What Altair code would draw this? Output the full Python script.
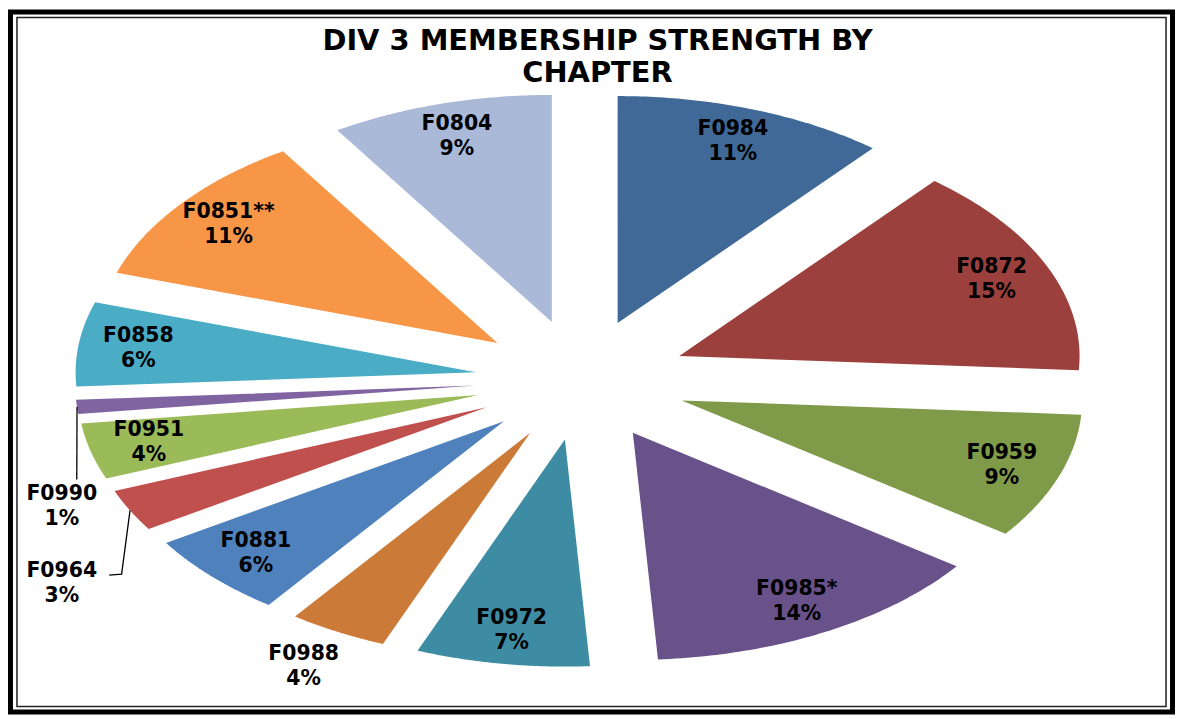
import math
import altair as alt
import pandas as pd

# ---------------- data ----------------
chapters = ["F0984", "F0872", "F0959", "F0985*", "F0972", "F0988", "F0881",
            "F0964", "F0951", "F0990", "F0858", "F0851**", "F0804"]
pcts = [11, 15, 9, 14, 7, 4, 6, 3, 4, 1, 6, 11, 9]
colors = ["#416998", "#9b403d", "#7f9a48", "#69518a", "#3d8ca3", "#cb7b37",
          "#4f81bd", "#c0504d", "#9bbb59", "#8064a2", "#4bacc6", "#f79646",
          "#aab9d8"]
title_lines = ["DIV 3 MEMBERSHIP STRENGTH BY", "CHAPTER"]

# ---------------- layout ----------------
W, H = 1172, 708
CX, CY = 576, 372          # pie centre in chart pixels
RX, RY = 402, 228          # pixels per unit radius (perspective ellipse)
EXPLODE = 0.266            # slice explosion (unit radius)
N = 60                     # arc resolution
LABEL_R = 0.85
label_r_override = {"F0988": 1.175}
label_xy_override = {"F0990": (-1.2985, -0.557), "F0964": (-1.2985, -0.895)}
leader_ends = {"F0990": [(-1.261, -0.439)],
               "F0964": [(-1.149, -0.855), (-1.180, -0.860)]}
FONT = "DejaVu Sans"

xs = alt.Scale(domain=[-CX / RX, (W - CX) / RX], nice=False, zero=False)
ys = alt.Scale(domain=[-(H - CY) / RY, CY / RY], nice=False, zero=False)

df = pd.DataFrame({"chapter": chapters, "pct": pcts, "idx": list(range(len(chapters)))})

slices = (
    alt.Chart(df)
    .transform_window(cum="sum(pct)", sort=[alt.SortField("idx")], frame=[None, 0])
    .transform_joinaggregate(total="sum(pct)")
    .transform_calculate(a0="2*PI*(datum.cum - datum.pct)/datum.total")
    .transform_calculate(a1="2*PI*datum.cum/datum.total")
    .transform_calculate(am="(datum.a0 + datum.a1)/2")
    .transform_calculate(ks=f"sequence(0, {N + 2})")
    .transform_flatten(["ks"], as_=["k"])
    .transform_calculate(rr="datum.k == 0 ? 0 : 1")
    .transform_calculate(aa=f"datum.a0 + (datum.a1 - datum.a0)*max(datum.k - 1, 0)/{N}")
    .transform_calculate(px=f"{EXPLODE}*sin(datum.am) + datum.rr*sin(datum.aa)")
    .transform_calculate(py=f"{EXPLODE}*cos(datum.am) + datum.rr*cos(datum.aa)")
    .mark_line(filled=True, interpolate="linear", strokeWidth=0)
    .encode(
        x=alt.X("px:Q", scale=xs, axis=None),
        y=alt.Y("py:Q", scale=ys, axis=None),
        color=alt.Color("chapter:N", scale=alt.Scale(domain=chapters, range=colors), legend=None),
        detail="chapter:N",
        order=alt.Order("k:Q"),
    )
)

# labels & leader lines (derived from the values)
rows, lead = [], []
cum = 0
for ch, p in zip(chapters, pcts):
    mid = 2 * math.pi * (cum + p / 2) / 100
    cum += p
    if ch in label_xy_override:
        lx, ly = label_xy_override[ch]
    else:
        r = EXPLODE + label_r_override.get(ch, LABEL_R)
        lx, ly = r * math.sin(mid), r * math.cos(mid)
    rows.append({"chapter": ch, "label": f"{ch}\n{p}%", "lx": lx, "ly": ly})
    if ch in leader_ends:
        pts = [((EXPLODE + 1) * math.sin(mid), (EXPLODE + 1) * math.cos(mid))] + leader_ends[ch]
        for i, (x, y) in enumerate(pts):
            lead.append({"chapter": ch, "o": i, "x": x, "y": y})
ldf = pd.DataFrame(rows)
leaddf = pd.DataFrame(lead)

labels = alt.Chart(ldf).mark_text(
    font=FONT, fontSize=20.5, fontWeight="bold", color="black",
    lineBreak="\n", lineHeight=25, align="center", baseline="middle", dy=-12.5,
).encode(
    x=alt.X("lx:Q", scale=xs, axis=None),
    y=alt.Y("ly:Q", scale=ys, axis=None),
    text="label:N",
)

leaders = alt.Chart(leaddf).mark_line(color="black", strokeWidth=1.3).encode(
    x=alt.X("x:Q", scale=xs, axis=None),
    y=alt.Y("y:Q", scale=ys, axis=None),
    detail="chapter:N",
    order=alt.Order("o:Q"),
)

one = pd.DataFrame({"a": [0]})
title = alt.Chart(one).mark_text(
    font=FONT, fontSize=29, fontWeight="bold", color="black",
    lineHeight=32, align="center", baseline="middle",
).encode(x=alt.value(592), y=alt.value(32), text=alt.value(title_lines))

frame_outer = alt.Chart(one).mark_rect(fillOpacity=0, stroke="black", strokeWidth=5).encode(
    x=alt.value(2.5), x2=alt.value(W - 2.5), y=alt.value(2.5), y2=alt.value(H - 2.5))
frame_inner = alt.Chart(one).mark_rect(fillOpacity=0, stroke="#222222", strokeWidth=1.5).encode(
    x=alt.value(9), x2=alt.value(W - 9), y=alt.value(8), y2=alt.value(H - 8))

chart = (
    alt.layer(slices, leaders, labels, title, frame_outer, frame_inner)
    .properties(width=W, height=H, padding=0, background="white")
    .configure_view(stroke=None)
)

chart.save("out.html", embed_options={"renderer": "svg", "actions": False})
